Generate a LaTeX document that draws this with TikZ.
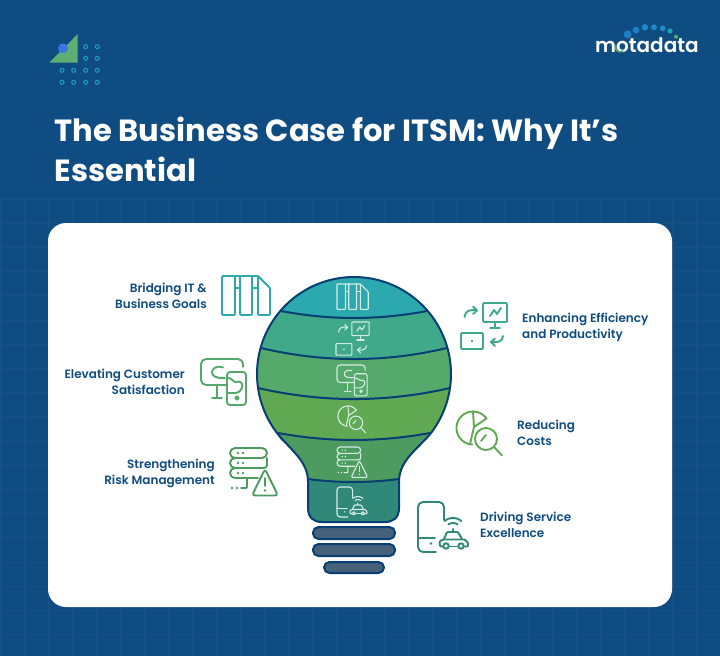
\documentclass[tikz,border=0pt]{standalone}
\usepackage{fontspec}
\setmainfont{Poppins}[BoldFont={Poppins SemiBold}]
\newfontfamily\titlefont{Poppins}[UprightFont={* Bold}]
\newfontfamily\logofont{Poppins}[UprightFont={* SemiBold}]
\definecolor{bgblue}{HTML}{0F4C81}
\definecolor{gridblue}{HTML}{175286}
\definecolor{outl}{HTML}{073F75}
\definecolor{bandA}{HTML}{2BA9AE}
\definecolor{bandB}{HTML}{40A98A}
\definecolor{bandC}{HTML}{55AA6B}
\definecolor{bandD}{HTML}{60A852}
\definecolor{bandE}{HTML}{4E9B5F}
\definecolor{bandF}{HTML}{2F8878}
\definecolor{basefill}{HTML}{46617A}
\definecolor{ringc}{HTML}{1F9FC8}
\definecolor{smallic}{HTML}{D3EDE6}
\tikzset{
  label/.style={font=\bfseries\fontsize{12}{16}\selectfont,text=bgblue,inner sep=0pt},
  rlabel/.style={label,align=right,anchor=east},
  llabel/.style={label,align=left,anchor=west},
  bigicon/.style={line width=1.9pt,line cap=round,line join=round},
  smallicon/.style={draw=smallic,line width=1.1pt,line cap=round,line join=round},
  basebar/.style={draw=outl,fill=basefill,line width=2pt,rounded corners=5.5pt},
  ring/.style={draw=ringc,line width=1pt},
  sep/.style={draw=outl,line width=2pt},
}
\newcommand\setbig{\def\rcm{3pt}\def\rcl{5pt}\def\rcs{1pt}}
\newcommand\setsmall{\def\rcm{2pt}\def\rcl{3.2pt}\def\rcs{.6pt}}
\newcommand\iconBridge{%
  \draw[rounded corners=\rcs] (222,288) -- (222,276) -- (258,276) -- (270,288) -- (270,315) -- (258,315) -- (258,276);
  \draw[rounded corners=\rcs] (222,288) -- (222,315) -- (235,315) -- (235,276);
  \draw[rounded corners=\rcs] (240,276) -- (240,315) -- (252,315) -- (252,276);
  \draw (235,288) -- (240,288) (252,288) -- (258,288);
}
\newcommand\iconEff{%
  \draw[rounded corners=\rcs] (483,303) rectangle (507,322);
  \draw (495,322) -- (495,328) (490,328) -- (500,328);
  \draw (490,316) -- (494,310) -- (497,314) -- (501,308);
  \draw[rounded corners=\rcs] (461,333) rectangle (483,349);
  \fill (472,341) circle[radius=1.3];
  \draw (464.5,317) .. controls (465,311) and (470,309) .. (477,310.5);
  \draw (473,306.5) -- (477,310.5) -- (473,314);
  \draw (503,336) .. controls (503,341) and (498,343) .. (491,342);
  \draw (495,338.5) -- (491,342) -- (495,346);
}
\newcommand\iconCust{%
  \draw[rounded corners=\rcl] (243,367) -- (243,359) -- (201,359) -- (201,385) -- (227,385);
  \draw (217,385) -- (217,398) (212,398) -- (222,398);
  \draw (223,367.5) .. controls (216,365) and (212,369) .. (212,372.5) .. controls (212,376) and (216,378.5) .. (225,378);
  \draw[rounded corners=\rcm] (227,372) rectangle (246,405);
  \draw (228,378) .. controls (232,378) and (233,382) .. (236,382) .. controls (240,380) and (244,384) .. (242,388) .. controls (241,391) and (238,393) .. (236,393) -- (228,393);
  \draw (237,398) circle[radius=1.8];
}
\newcommand\iconCosts{%
  \draw plot[domain=93:272,samples=40] ({473+16.5*cos(\x)},{428+16.5*sin(\x)});
  \draw plot[domain=272:325,samples=16] ({473+16.5*cos(\x)},{428+16.5*sin(\x)});
  \draw (473,411.5) -- (474,427) -- (470,444);
  \draw (474,427) -- (486.5,418.5);
  \draw (486,439) circle[radius=11];
  \draw (494,447) -- (502,455.5);
  \draw (481,441) -- (486,435);
}
\newcommand\iconRisk{%
  \draw[rounded corners=\rcl] (230,448) rectangle (267,458);
  \draw[rounded corners=\rcl] (233,458) -- (230,458) -- (230,468) -- (262,468);
  \draw[rounded corners=\rcl] (233,468) -- (230,468) -- (230,478) -- (258,478);
  \draw[rounded corners=\rcm] (267,458) -- (267,468) -- (261,468);
  \draw[rounded corners=\rcs] (247,478) -- (247,488) -- (241,488);
  \fill (238,453) circle[radius=1.3] (243,453) circle[radius=1.3];
  \fill (238,463) circle[radius=1.3] (243,463) circle[radius=1.3];
  \fill (238,473) circle[radius=1.3] (243,473) circle[radius=1.3];
  \fill (232,488) circle[radius=1.3] (237,488) circle[radius=1.3];
  \draw[rounded corners=\rcm] (265,469) -- (278,495.5) -- (252,495.5) -- cycle;
  \draw (265,478) -- (265,486);
  \fill (265,490.5) circle[radius=1.3];
}
\newcommand\iconDrive{%
  \draw[rounded corners=\rcl] (444,520) -- (444,502) -- (418,502) -- (418,552) -- (436,552);
  \draw (418,538) -- (435,538);
  \fill (431,543.5) circle[radius=1.3];
  \draw[rounded corners=\rcs] (443.3,546.5) -- (440,546.5) -- (439.5,541.5) -- (443,539.5) -- (465,539.5) -- (468,543) -- (468,546.5) -- (463.7,546.5);
  \draw (449,546.5) -- (458.3,546.5);
  \draw[rounded corners=\rcs] (444,539) -- (447,532) -- (458,532) -- (462,539);
  \draw (452.7,531) -- (452.7,529);
  \draw (446,546) circle[radius=2.7] (461,546) circle[radius=2.7];
  \draw plot[domain=235:305,samples=12] ({453+8*cos(\x)},{531+8*sin(\x)});
  \draw plot[domain=230:310,samples=14] ({453+13*cos(\x)},{531+13*sin(\x)});
}
\newcommand\bulbshape{plot[domain=141:399,samples=90] ({354+97*cos(\x)},{374+97*sin(\x)})
  .. controls (414,452) and (399,462) .. (399,482) -- (399,508)
  .. controls (399,518) and (393,522) .. (385,522) -- (322,522)
  .. controls (314,522) and (308,518) .. (308,508) -- (308,482)
  .. controls (308,462) and (293,452) .. (278.6,435) -- cycle}
\newcommand\curveA{(281,311) .. controls (330,320.3) and (378,320.3) .. (427,311)}
\newcommand\curveB{(261,348) .. controls (323,362.7) and (385,362.7) .. (447,348)}
\newcommand\curveC{(258,388) .. controls (322,402.7) and (386,402.7) .. (450,388)}
\newcommand\curveD{(278,433) .. controls (329,442.3) and (379,442.3) .. (430,433)}
\newcommand\curveE{(308,479) .. controls (338,483) and (369,483) .. (399,479)}
\begin{document}
\begin{tikzpicture}[x=1pt,y=-1pt]
\useasboundingbox (0,0) rectangle (720,656);
\fill[bgblue] (0,0) rectangle (720,656);
% background grid
\foreach \gx in {0,24,...,720} {\draw[gridblue,line width=1pt] (\gx,199) -- (\gx,656);}
\foreach \gy in {199,223.2,...,656} {\draw[gridblue,line width=1pt] (0,\gy) -- (720,\gy);}
% header mark
\fill[bandC!95!white] (49.3,62.7) -- (77.7,62.7) -- (77.7,34) -- cycle;
\fill[ringc!60!blue!85!white] (63,48.3) circle[radius=5];
\foreach \rx/\ry in {85.7/46.7,97.3/46.7,85.7/58.3,97.3/58.3,62/70.3,73.7/70.3,85.7/70.3,97.3/70.3,62/82.3,73.7/82.3,85.7/82.3,97.3/82.3}
  \draw[ring] (\rx,\ry) circle[radius=2];
% logo
\node[anchor=base west,inner sep=0pt,text=white] (logo) at (595,52) {\logofont\fontsize{20}{22}\selectfont motadata};
\draw[bandC,line width=1.6pt,line cap=round] plot[domain=60:190,samples=14] ({620.3+5*cos(\x)},{46.7+5*sin(\x)});
\foreach \dx/\dy/\dr/\dc in {627.7/34.3/4/1F7FC4,636/30/3.4/1F7FC4,645/27.3/3.2/1F88C8,654/27.3/3/1F88C8,662.7/28.3/2.8/2090C4,670/31/2.6/20A5B5,676/36.7/2/4FB36B}
  {\definecolor{dotc}{HTML}{\dc}\fill[dotc] (\dx,\dy) circle[radius=\dr];}
% title
\node[anchor=base west,inner sep=0pt,text=white] (t1) at (54.5,141) {\titlefont\fontsize{30.6}{40}\selectfont The Business Case for ITSM: Why It’s};
\node[anchor=base west,inner sep=0pt,text=white] (t2) at (54.5,181) {\titlefont\fontsize{30.6}{40}\selectfont Essential};
% card
\fill[white,rounded corners=18pt] (48,223) rectangle (672,607);
% bulb
\begin{scope}
  \clip \bulbshape;
  \fill[bandF] (240,260) rectangle (470,530);
  \fill[bandE] \curveE -- (470,479) -- (470,260) -- (240,260) -- (240,479) -- cycle;
  \fill[bandD] \curveD -- (470,433) -- (470,260) -- (240,260) -- (240,433) -- cycle;
  \fill[bandC] \curveC -- (470,388) -- (470,260) -- (240,260) -- (240,388) -- cycle;
  \fill[bandB] \curveB -- (470,348) -- (470,260) -- (240,260) -- (240,348) -- cycle;
  \fill[bandA] \curveA -- (470,311) -- (470,260) -- (240,260) -- (240,311) -- cycle;
  \draw[sep] \curveA;
  \draw[sep] \curveB;
  \draw[sep] \curveC;
  \draw[sep] \curveD;
  \draw[sep] \curveE;
\end{scope}
\draw[outl,line width=2pt] \bulbshape;
\draw[basebar] (313,527) rectangle (395,539);
\draw[basebar] (313,544) rectangle (395,556);
\draw[basebar] (324,562) rectangle (384,573);
% big icons
\setbig
\begin{scope}[bigicon,draw=bandA,fill=bandA]\iconBridge\end{scope}
\begin{scope}[bigicon,draw=bandB,fill=bandB]\iconEff\end{scope}
\begin{scope}[bigicon,draw=bandC,fill=bandC]\iconCust\end{scope}
\begin{scope}[bigicon,draw=bandD,fill=bandD]\iconCosts\end{scope}
\begin{scope}[bigicon,draw=bandE,fill=bandE]\iconRisk\end{scope}
\begin{scope}[bigicon,draw=bandF,fill=bandF]\iconDrive\end{scope}
% small icons in the bulb
\setsmall
\begin{scope}[shift={(192.7,104.6)},scale=.65,smallicon,fill=smallic]\iconBridge\end{scope}
\begin{scope}[shift={(4.1,103.8)},scale=.72,smallicon,fill=smallic]\iconEff\end{scope}
\begin{scope}[shift={(202.3,124.5)},scale=.67,smallicon,fill=smallic]\iconCust\end{scope}
\begin{scope}[shift={(59.5,155)},scale=.61,smallicon,fill=smallic]\iconCosts\end{scope}
\begin{scope}[shift={(189.8,160.3)},scale=.64,smallicon,fill=smallic]\iconRisk\end{scope}
\begin{scope}[shift={(86.2,185.8)},scale=.6,smallicon,fill=smallic]\iconDrive\end{scope}
% labels
\node[rlabel] (l1) at (207,295.5) {Bridging IT \&\\Business Goals};
\node[rlabel] (l2) at (185,382) {Elevating Customer\\Satisfaction};
\node[rlabel] (l3) at (215,473) {Strengthening\\Risk Management};
\node[llabel] (r1) at (522,327.5) {Enhancing Efficiency\\and Productivity};
\node[llabel] (r2) at (517,433) {Reducing\\Costs};
\node[llabel] (r3) at (480,525) {Driving Service\\Excellence};
\end{tikzpicture}
\end{document}
